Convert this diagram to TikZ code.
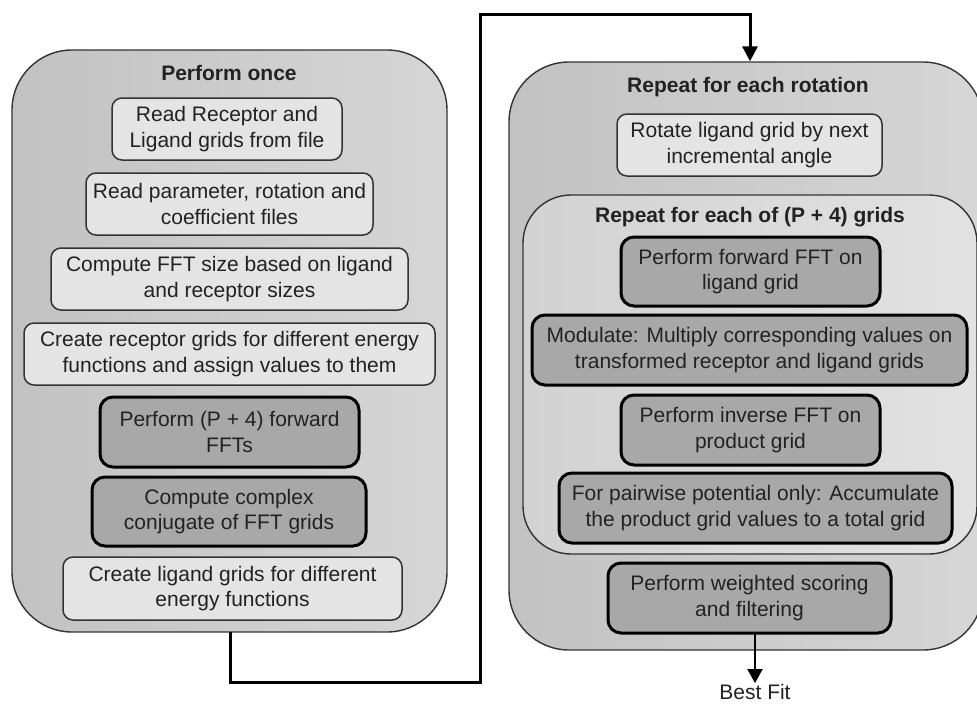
\documentclass[tikz,border=0pt]{standalone}
\usepackage{fontspec}
\setmainfont{Liberation Sans}
\usetikzlibrary{arrows.meta}
\definecolor{outerL}{HTML}{C2C2C2}
\definecolor{outerR}{HTML}{D6D6D6}
\definecolor{innerL}{HTML}{D2D2D2}
\definecolor{innerR}{HTML}{E2E2E2}
\definecolor{lightbox}{HTML}{E4E4E4}
\definecolor{darkbox}{HTML}{A8A8A8}
\definecolor{txt}{HTML}{222222}
\definecolor{edgegray}{HTML}{333333}
\begin{document}
\begin{tikzpicture}[x=1pt,y=-1pt,
  font=\fontsize{21}{25.5}\selectfont, text=txt,
  container/.style={draw=edgegray, line width=1.4pt, rounded corners=60pt, left color=outerL, right color=outerR, inner sep=0pt},
  innercont/.style={draw=edgegray, line width=1.4pt, rounded corners=48pt, left color=innerL, right color=innerR, inner sep=0pt},
  lightstep/.style={draw=edgegray, line width=1.5pt, fill=lightbox, rounded corners=10pt, align=center, inner sep=0pt},
  darkstep/.style={draw=black, line width=3pt, fill=darkbox, rounded corners=13pt, align=center, inner sep=0pt},
  title/.style={font=\fontsize{21}{25.5}\selectfont\bfseries, text=txt},
  flow/.style={draw=black, line width=3pt, -{Triangle[width=15pt,length=15pt]}},
]
\useasboundingbox (0,0) rectangle (977,704);

% containers
\node[container, minimum width=435pt, minimum height=582pt] (once) at (229.5,341) {};
\node[container, minimum width=474pt, minimum height=588pt] (rot) at (746,356) {};
\node[innercont, minimum width=454pt, minimum height=359pt] (grids) at (750,374.5) {};

% titles
\node[title] (t1) at (229,73) {Perform once};
\node[title] (t2) at (748,87) {Repeat for each rotation};
\node[title] (t3) at (750,217) {Repeat for each of (P + 4) grids};

% left steps
\node[lightstep, minimum width=230pt, minimum height=62pt] (b1) at (227,129) {Read Receptor and\\Ligand grids from file};
\node[lightstep, minimum width=287pt, minimum height=62pt] (b2) at (229.5,204) {Read parameter, rotation and\\coefficient files};
\node[lightstep, minimum width=357pt, minimum height=62pt] (b3) at (229.5,279) {Compute FFT size based on ligand\\and receptor sizes};
\node[lightstep, minimum width=411pt, minimum height=62pt] (b4) at (229.5,354) {Create receptor grids for different energy\\functions and assign values to them};
\node[darkstep, minimum width=259pt, minimum height=70pt] (b5) at (229.5,432) {Perform (P + 4) forward\\FFTs};
\node[darkstep, minimum width=274pt, minimum height=69pt] (b6) at (229,511.5) {Compute complex\\conjugate of FFT grids};
\node[lightstep, minimum width=339pt, minimum height=63pt] (b7) at (232.5,588.5) {Create ligand grids for different\\energy functions};

% right steps
\node[lightstep, minimum width=265pt, minimum height=62pt] (r1) at (749.5,145) {Rotate ligand grid by next\\incremental angle};
\node[darkstep, minimum width=259pt, minimum height=69pt] (f1) at (750.5,271.5) {Perform forward FFT on\\ligand grid};
\node[darkstep, minimum width=435pt, minimum height=70pt] (f2) at (749.5,350) {Modulate: Multiply corresponding values on\\transformed receptor and ligand grids};
\node[darkstep, minimum width=259pt, minimum height=70pt] (f3) at (750.5,430) {Perform inverse FFT on\\product grid};
\node[darkstep, minimum width=393pt, minimum height=70pt] (f4) at (755.5,508) {For pairwise potential only: Accumulate\\the product grid values to a total grid};
\node[darkstep, minimum width=283pt, minimum height=70pt] (w) at (749.5,598) {Perform weighted scoring\\and filtering};

\node[font=\fontsize{21}{25.5}\selectfont, inner sep=1pt] (best) at (755,692) {Best Fit};

% connectors
\coordinate (c0) at (230,632);
\coordinate (c1) at (230,682);
\coordinate (c2) at (480,682);
\coordinate (c3) at (480,14);
\coordinate (c4) at (750,14);
\draw[flow] (c0) -- (c1) -- (c2) -- (c3) -- (c4) -- (c4 |- rot.north);
\coordinate (w0) at (755,633);
\draw[draw=black, line width=2pt, -{Triangle[width=15pt,length=14pt]}] (w0) -- (best.north);
\end{tikzpicture}
\end{document}
